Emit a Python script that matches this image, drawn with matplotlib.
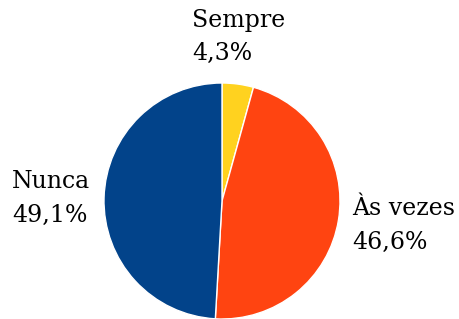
import matplotlib
matplotlib.use("Agg")
import matplotlib.pyplot as plt

# dados do gráfico
categorias = ["Sempre", "Às vezes", "Nunca"]
valores = [4.3, 46.6, 49.1]
rotulos = ["4,3%", "46,6%", "49,1%"]
cores = ["#FFD21F", "#FF4411", "#02438A"]

fig = plt.figure(figsize=(4.59, 3.19), dpi=100)
ax = fig.add_axes([104 / 459, 0.0, 236 / 459, 236 / 319])

ax.pie(valores, colors=cores, startangle=90, counterclock=False,
       wedgeprops=dict(edgecolor="white", linewidth=1))
ax.set_xlim(-1, 1)
ax.set_ylim(-1, 1)
ax.set_aspect("equal")

# posição dos textos (coordenadas do eixo)
pos = {"Sempre": (-0.25, 1.63), "Às vezes": (1.10, 0.03), "Nunca": (-1.78, 0.26)}
for nome, txt in zip(categorias, rotulos):
    x, y = pos[nome]
    ax.text(x, y, nome + "\n" + txt, ha="left", va="top", fontsize=17,
            family="DejaVu Serif", linespacing=1.6, clip_on=False)

plt.savefig("out.png", dpi=100)
